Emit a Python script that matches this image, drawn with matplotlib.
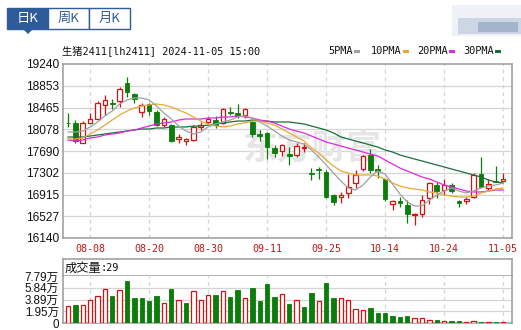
#K-line chart of 生猪2411, daily candles with moving averages and volume
import numpy as np
import matplotlib
matplotlib.use("Agg")
import matplotlib.pyplot as plt
from matplotlib.patches import Rectangle, Polygon

#Data
dates = ["08-05","08-06","08-07","08-08","08-09","08-12","08-13","08-14","08-15","08-16",
         "08-19","08-20","08-21","08-22","08-23","08-26","08-27","08-28","08-29","08-30",
         "09-02","09-03","09-04","09-05","09-06","09-09","09-10","09-11","09-12","09-13",
         "09-18","09-19","09-20","09-23","09-24","09-25","09-26","09-27","09-30","10-08",
         "10-09","10-10","10-11","10-14","10-15","10-16","10-17","10-18","10-21","10-22",
         "10-23","10-24","10-25","10-28","10-29","10-30","10-31","11-01","11-04","11-05"]
opens = [18190, 18183, 17838, 18195, 18266, 18515, 18540, 18575, 18896, 18706,
         18385, 18527, 18391, 18159, 18153, 17910, 17874, 17886, 18123, 18207,
         18242, 18189, 18391, 18373, 18325, 18213, 17987, 18005, 17743, 17696,
         17636, 17613, 17743, 17304, 17375, 17322, 16906, 16876, 16948, 17114,
         17363, 17625, 17363, 17185, 16746, 16793, 16728, 16544, 16567, 16847,
         17078, 16995, 17084, 16793, 16805, 16864, 17280, 17025, 17161, 17161]
closes = [18180, 17874, 18195, 18254, 18551, 18599, 18527, 18789, 18741, 18610,
          18504, 18409, 18153, 18254, 17874, 17933, 17898, 18123, 18147, 18266,
          18153, 18432, 18367, 18314, 18432, 17993, 17957, 17755, 17660, 17791,
          17601, 17779, 17767, 17280, 17351, 16876, 16787, 16900, 17043, 17262,
          17601, 17351, 17340, 16829, 16805, 16770, 16567, 16567, 16817, 17114,
          16983, 17090, 16983, 16758, 16841, 17256, 17055, 17102, 17144, 17185]
highs = [18361, 18242, 18219, 18361, 18575, 18694, 18610, 18824, 19014, 18718,
         18539, 18551, 18420, 18302, 18171, 17993, 17922, 18147, 18213, 18290,
         18314, 18456, 18480, 18527, 18450, 18242, 18064, 18034, 17797, 17815,
         17755, 17826, 17826, 17381, 17411, 17351, 16924, 16965, 17280, 17351,
         17619, 17720, 17441, 17197, 16817, 16876, 16817, 16579, 16906, 17144,
         17138, 17185, 17126, 16817, 16864, 17292, 17577, 17185, 17423, 17304]
lows = [18123, 17826, 17826, 18183, 18254, 18337, 18432, 18480, 18646, 18551,
        18302, 18331, 18135, 18123, 17850, 17826, 17791, 17862, 18064, 18183,
        18094, 18171, 18331, 18272, 18272, 17933, 17874, 17553, 17589, 17601,
        17435, 17577, 17678, 17173, 17197, 16847, 16722, 16770, 16847, 17025,
        17340, 17292, 17203, 16805, 16639, 16698, 16413, 16372, 16508, 16746,
        16847, 16906, 16947, 16698, 16746, 16852, 17043, 16995, 17138, 17161]

ma5 = [18029, 18029, 18046, 18118, 18207, 18314, 18403, 18527, 18599, 18634,
       18634, 18599, 18492, 18367, 18260, 18135, 18046, 17993, 18029, 18118,
       18171, 18207, 18242, 18296, 18314, 18278, 18207, 18135, 18046, 17957,
       17886, 17850, 17815, 17708, 17583, 17441, 17298, 17155, 17031, 16995,
       17084, 17227, 17334, 17280, 17102, 16924, 16781, 16710, 16710, 16817,
       16906, 16977, 17031, 16977, 16942, 16977, 17031, 17066, 17084, 17120]
ma10 = [17904, 17904, 17922, 17993, 18064, 18153, 18242, 18331, 18403, 18456,
        18492, 18510, 18527, 18510, 18474, 18420, 18367, 18296, 18224, 18171,
        18135, 18118, 18135, 18171, 18189, 18224, 18224, 18189, 18153, 18082,
        18011, 17939, 17868, 17743, 17654, 17530, 17423, 17334, 17298, 17262,
        17262, 17262, 17245, 17191, 17120, 17066, 17031, 17013, 16995, 16960,
        16942, 16906, 16888, 16870, 16870, 16888, 16942, 16977, 17013, 17031]
ma20 = [17886, 17868, 17886, 17922, 17939, 17975, 17993, 18011, 18046, 18064,
        18100, 18135, 18171, 18189, 18207, 18242, 18260, 18260, 18260, 18278,
        18278, 18296, 18296, 18314, 18296, 18278, 18242, 18224, 18189, 18135,
        18082, 18046, 18011, 17957, 17904, 17850, 17815, 17779, 17743, 17708,
        17672, 17637, 17601, 17530, 17458, 17387, 17334, 17280, 17227, 17191,
        17138, 17084, 17049, 17013, 16977, 16960, 16960, 16977, 16995, 16995]
ma30 = [17939, 17939, 17939, 17957, 17975, 17993, 18011, 18029, 18046, 18064,
        18082, 18082, 18100, 18100, 18118, 18118, 18118, 18135, 18135, 18153,
        18171, 18189, 18207, 18224, 18224, 18242, 18224, 18224, 18207, 18207,
        18207, 18189, 18171, 18135, 18100, 18064, 18011, 17939, 17904, 17868,
        17833, 17797, 17761, 17708, 17672, 17619, 17583, 17547, 17512, 17476,
        17441, 17405, 17369, 17334, 17298, 17262, 17227, 17173, 17138, 17120]

#volume in 万 lots, and whether the bar is drawn red (up)
volume = [2.78, 3.00, 3.00, 3.78, 4.45, 5.56, 4.51, 5.45, 6.96, 4.12,
          4.12, 3.67, 4.45, 3.34, 5.68, 3.89, 3.34, 5.23, 3.78, 4.62,
          4.62, 5.23, 4.34, 5.45, 4.12, 5.79, 3.67, 6.45, 4.34, 4.79,
          3.23, 3.78, 2.67, 5.01, 3.62, 6.68, 4.12, 4.12, 3.78, 2.39,
          2.23, 2.45, 1.67, 1.67, 1.11, 1.00, 1.11, 0.78, 0.89, 0.56,
          0.45, 0.28, 0.28, 0.28, 0.17, 0.28, 0.22, 0.17, 0.11, 0.11]
vol_up = [1,0,1,1,1,1,0,1,0,0, 0,0,0,1,0,1,0,1,1,1,
          0,1,0,0,1,0,0,0,0,1, 0,1,0,0,1,0,0,1,1,1,
          1,0,0,0,0,0,0,1,1,1, 0,1,0,0,1,1,0,1,0,1]

price_ticks = [16140, 16527, 16915, 17302, 17690, 18078, 18465, 18853, 19240]
vol_ticks = [0, 1.95, 3.89, 5.84, 7.79]
vol_labels = ["0", "1.95万", "3.89万", "5.84万", "7.79万"]
label_idx = [3, 11, 19, 27, 35, 43, 51, 59]

RED = "#d81010"
GREEN = "#0a7d0a"
GRID = "#d4d4d4"
FRAME = "#9a9a9a"
BLUE = "#2e5c9a"
CJK = ["Noto Sans CJK SC", "DejaVu Sans"]
MONO = ["DejaVu Sans Mono", "Noto Sans CJK SC"]
NUM = ["Liberation Sans", "Noto Sans CJK SC"]

W, H = 521, 330
def fx(px):
    return px / W
def fy(py):
    return 1 - py / H

fig = plt.figure(figsize=(W / 100, H / 100), dpi=100)
fig.patch.set_facecolor("white")

#tabs
for i, name in enumerate(["日K", "周K", "月K"]):
    x0 = 7 + 41 * i
    sel = i == 0
    fig.patches.append(Rectangle((fx(x0), fy(29)), fx(41), 21 / H, transform=fig.transFigure,
                                 facecolor=BLUE if sel else "white", edgecolor=BLUE, lw=1))
    fig.text(fx(x0 + 20.5), fy(18.5), name, ha="center", va="center", fontsize=9.5,
             family=CJK, color="white" if sel else BLUE)
fig.patches.append(Polygon([(fx(23), fy(29)), (fx(33), fy(29)), (fx(28), fy(34))],
                           closed=True, transform=fig.transFigure, facecolor=BLUE, edgecolor="none"))

#blurred widget at top right
fig.patches.append(Rectangle((fx(452), fy(36)), fx(69), 31 / H, transform=fig.transFigure,
                             facecolor="#eef1f6", edgecolor="none"))
fig.patches.append(Rectangle((fx(458), fy(34)), fx(63), 16 / H, transform=fig.transFigure,
                             facecolor="#cdd6e3", edgecolor="none"))
fig.patches.append(Rectangle((fx(478), fy(32)), fx(40), 10 / H, transform=fig.transFigure,
                             facecolor="#a3b4cb", edgecolor="none"))

#title and legend
fig.text(fx(62), fy(51), "生猪2411[lh2411] 2024-11-05 15:00", ha="left", va="center",
         fontsize=7.4, family=MONO, color="#111111")
leg = [("5PMA", 328, "#a0a0a0"), ("10PMA", 371, "#eaa833"),
       ("20PMA", 417, "#e028e0"), ("30PMA", 463, "#17703a")]
for name, x0, c in leg:
    fig.text(fx(x0), fy(51), name, ha="left", va="center", fontsize=7.4, family=MONO, color="#111111")
    w = 6.0 * len(name)
    fig.patches.append(Rectangle((fx(x0 + w + 2), fy(52.5)), fx(6), 3 / H,
                                 transform=fig.transFigure, facecolor=c, edgecolor="none"))

#main price axes
ax = fig.add_axes([fx(63), fy(238), fx(512) - fx(63), fy(64) - fy(238)])
x = np.arange(len(dates))
ax.set_xlim(-0.68, 60.2)
ax.set_ylim(price_ticks[0], price_ticks[-1])

for p in price_ticks[1:-1]:
    ax.axhline(p, color=GRID, lw=0.9, zorder=0)
for i in label_idx:
    ax.axvline(i, color=GRID, lw=0.9, dashes=(3, 3), zorder=0)

#watermark
ax.text(0.555, 0.52, "东方财富", transform=ax.transAxes, ha="center", va="center",
        fontsize=25, weight="bold", family=CJK, color="#e6e6e6", zorder=0.5)

o = np.array(opens); c = np.array(closes)
up = c >= o
cols = np.where(up, RED, GREEN)
ax.vlines(x, lows, highs, colors=cols, lw=0.9, zorder=2)
bottom = np.minimum(o, c)
height = np.maximum(np.abs(c - o), 12)
ax.bar(x[up], height[up], bottom=bottom[up], width=0.62, facecolor="white",
       edgecolor=RED, lw=0.9, zorder=3)
ax.bar(x[~up], height[~up], bottom=bottom[~up], width=0.62, facecolor=GREEN,
       edgecolor=GREEN, lw=0.6, zorder=3)

for vals, col in [(ma30, "#17703a"), (ma20, "#e028e0"), (ma10, "#eaa833"), (ma5, "#a0a0a0")]:
    ax.plot(x, vals, color=col, lw=0.9, zorder=4)

ax.set_yticks(price_ticks)
ax.set_yticklabels([str(p) for p in price_ticks], family=NUM, fontsize=8.6, color="#111111")
ax.set_xticks(label_idx)
ax.set_xticklabels([dates[i] for i in label_idx], family=MONO, fontsize=7.2, color="#c81414")
ax.tick_params(length=0, pad=3)
ax.tick_params(axis="x", pad=4)
for s in ax.spines.values():
    s.set_color(FRAME)
    s.set_linewidth(1.1)

#volume header box
axh = fig.add_axes([fx(63), fy(276), fx(512) - fx(63), 17 / H])
axh.set_xticks([]); axh.set_yticks([])
axh.text(0.004, 0.45, "成交量", transform=axh.transAxes, ha="left", va="center",
         fontsize=8.8, family=CJK, color="#111111")
axh.text(0.083, 0.45, ":29", transform=axh.transAxes, ha="left", va="center",
         fontsize=7.4, family=MONO, color="#111111")
for s in axh.spines.values():
    s.set_color(FRAME)
    s.set_linewidth(1.1)

#volume bars
axv = fig.add_axes([fx(63), fy(323), fx(512) - fx(63), 47 / H])
axv.set_xlim(-0.68, 60.2)
axv.set_ylim(0, 7.79)
for v in vol_ticks[1:-1]:
    axv.axhline(v, color=GRID, lw=0.9, zorder=0)
for i in label_idx:
    axv.axvline(i, color=GRID, lw=0.9, dashes=(3, 3), zorder=0)
vu = np.array(vol_up, dtype=bool)
vol = np.array(volume)
axv.bar(x[vu], vol[vu], width=0.6, facecolor="white", edgecolor=RED, lw=0.9, zorder=3)
axv.bar(x[~vu], vol[~vu], width=0.6, facecolor=GREEN, edgecolor=GREEN, lw=0.6, zorder=3)
axv.set_yticks(vol_ticks)
axv.set_yticklabels(vol_labels, family=NUM, fontsize=8.4, color="#111111")
axv.set_xticks([])
axv.tick_params(length=0, pad=3)
for s in axv.spines.values():
    s.set_color(FRAME)
    s.set_linewidth(1.1)
axv.spines["top"].set_visible(False)

fig.savefig("out.png", dpi=100)
